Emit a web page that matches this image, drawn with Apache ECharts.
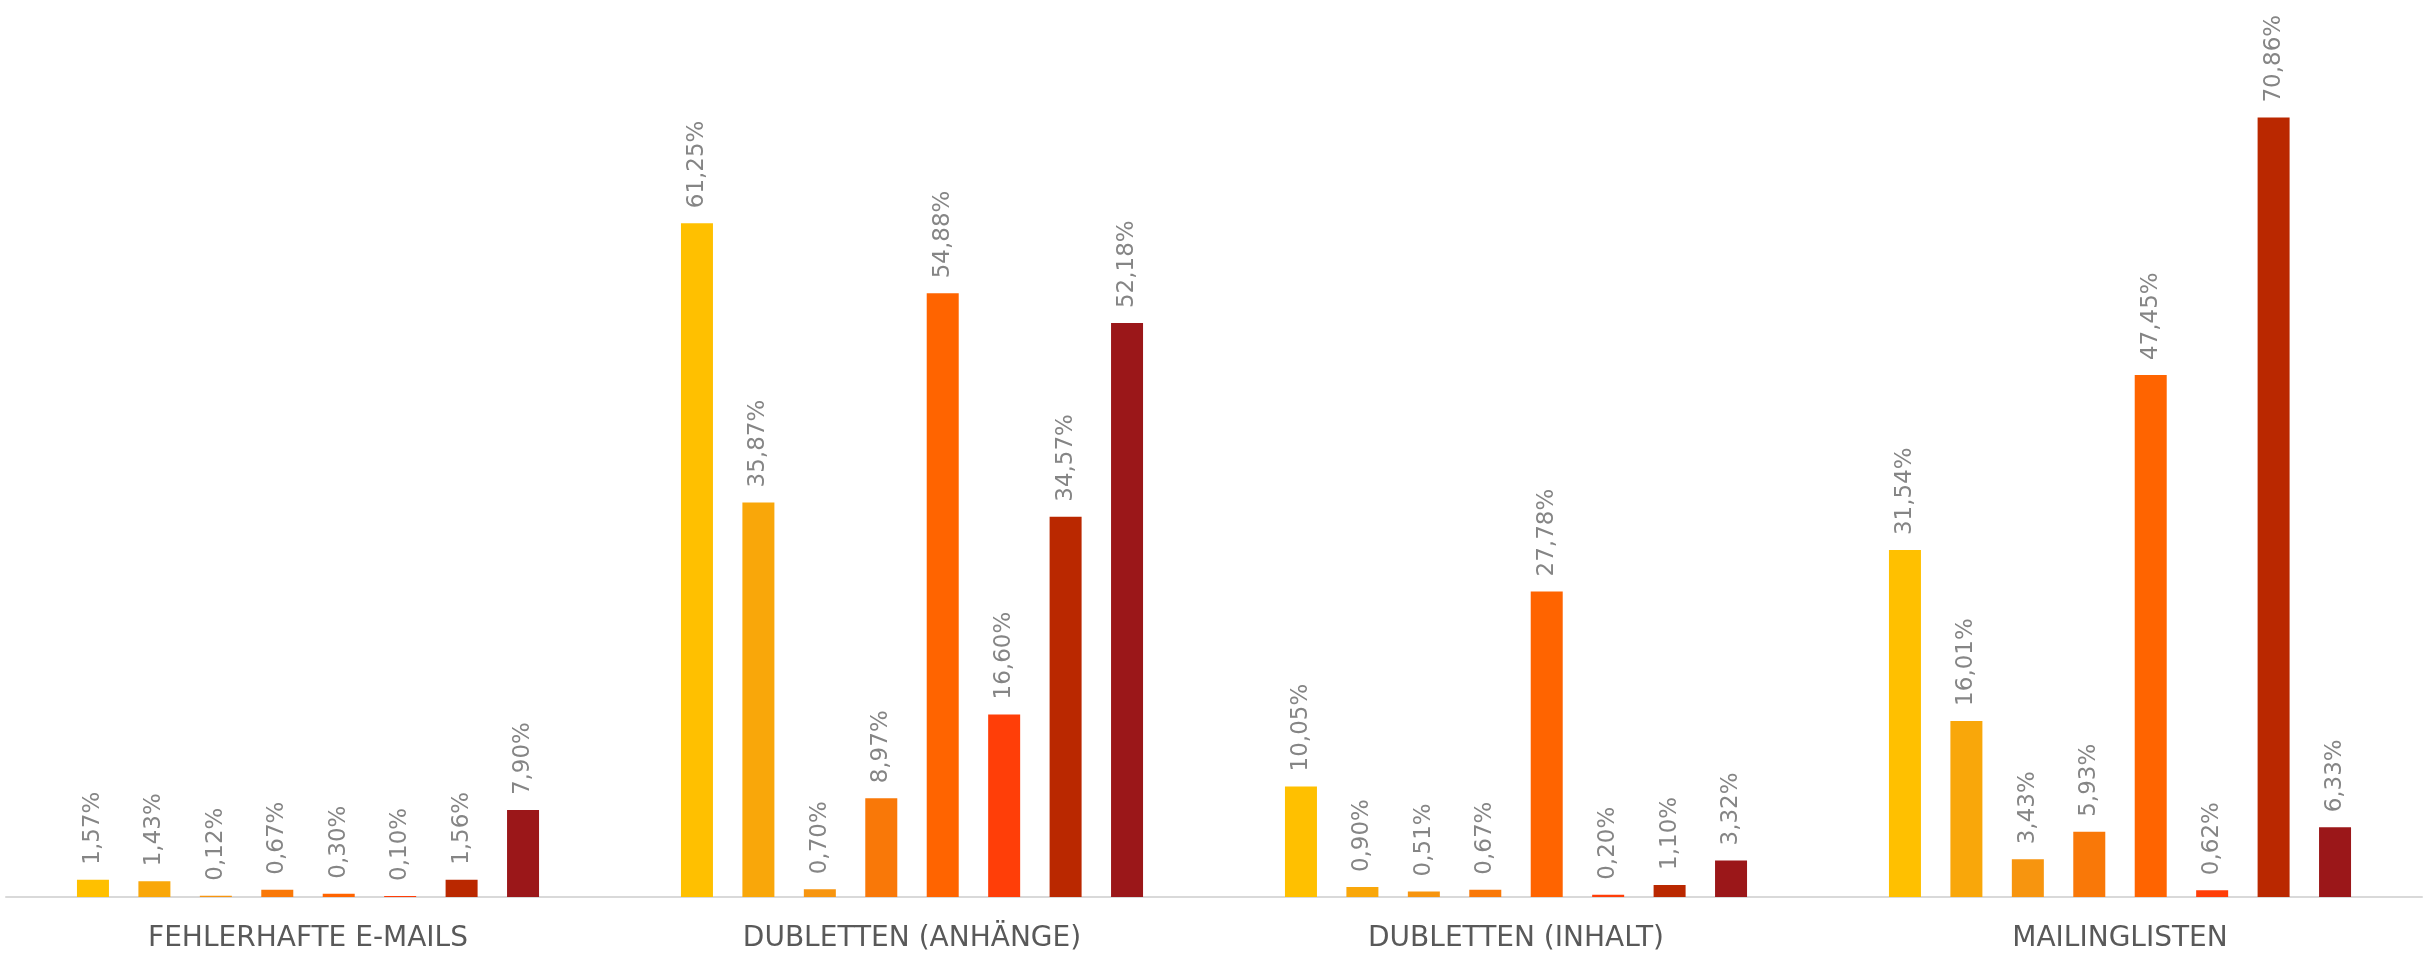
<!DOCTYPE html>
<html>
<head>
<meta charset="utf-8">
<script src="https://cdn.jsdelivr.net/npm/echarts@6/dist/echarts.min.js"></script>
<style>
  html, body { margin: 0; padding: 0; background: #fff; }
  #chart { width: 2433px; height: 955px; }
</style>
</head>
<body>
<div id="chart"></div>
<script>
// categories on the x axis
const categories = ['FEHLERHAFTE E-MAILS', 'DUBLETTEN (ANHÄNGE)', 'DUBLETTEN (INHALT)', 'MAILINGLISTEN'];

// one array per bar colour, values in percent per category
const s1 = [1.57, 61.25, 10.05, 31.54];
const s2 = [1.43, 35.87, 0.90, 16.01];
const s3 = [0.12, 0.70, 0.51, 3.43];
const s4 = [0.67, 8.97, 0.67, 5.93];
const s5 = [0.30, 54.88, 27.78, 47.45];
const s6 = [0.10, 16.60, 0.20, 0.62];
const s7 = [1.56, 34.57, 1.10, 70.86];
const s8 = [7.90, 52.18, 3.32, 6.33];

const seriesData = [s1, s2, s3, s4, s5, s6, s7, s8];
const seriesNames = ['Reihe 1', 'Reihe 2', 'Reihe 3', 'Reihe 4', 'Reihe 5', 'Reihe 6', 'Reihe 7', 'Reihe 8'];
const colors = ['#FFC000', '#F9A70A', '#F7950F', '#F97808', '#FF6400', '#FF3E08', '#BA2800', '#9B1719'];

const fmtPct = v => v.toFixed(2).replace('.', ',') + '%';

const chart = echarts.init(document.getElementById('chart'));

chart.setOption({
  animation: false,
  grid: {
    left: 6,
    right: 11,
    top: 17,
    bottom: 58
  },
  xAxis: {
    type: 'category',
    data: categories,
    axisLine: { lineStyle: { color: '#d9d9d9', width: 2 } },
    axisTick: { show: false },
    axisLabel: {
      color: '#595959',
      fontFamily: 'DejaVu Sans',
      fontSize: 28,
      margin: 28
    }
  },
  yAxis: {
    type: 'value',
    min: 0,
    max: 80,
    show: false,
    splitLine: { show: false }
  },
  series: seriesData.map((d, i) => ({
    name: seriesNames[i],
    type: 'bar',
    barWidth: 32,
    barGap: '92%',
    itemStyle: { color: colors[i] },
    label: {
      show: true,
      position: 'top',
      rotate: 90,
      align: 'left',
      verticalAlign: 'middle',
      distance: 15,
      color: '#858585',
      fontFamily: 'DejaVu Sans',
      fontSize: 23,
      formatter: p => fmtPct(p.value)
    },
    data: d
  }))
});
</script>
</body>
</html>
